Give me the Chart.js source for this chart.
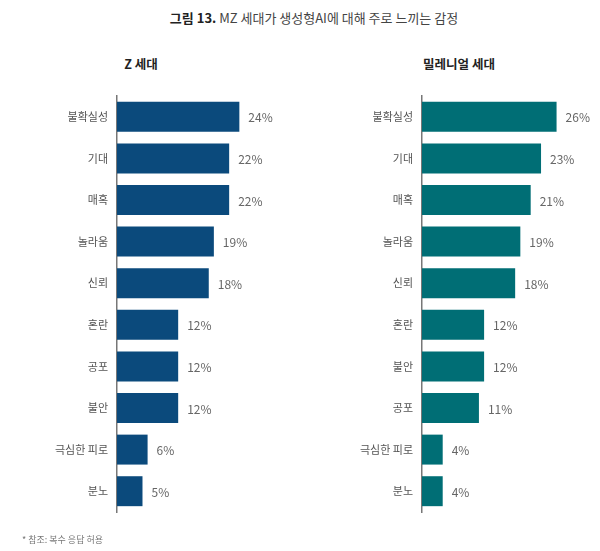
<!DOCTYPE html>
<html>
<head>
<meta charset="utf-8">
<script src="https://cdn.jsdelivr.net/npm/chart.js@4"></script>
<style>
  body { margin: 0; background: #fff; font-family: "Noto Sans CJK KR", "Noto Sans", sans-serif; }
  #wrap { position: relative; width: 600px; height: 551px; }
  .cv { position: absolute; top: 0; }
  .txt { position: absolute; white-space: nowrap; }
  #title { left: 0; width: 628px; top: 8px; text-align: center; font-size: 13px; color: #444; }
  #title b { color: #222; }
  .sub { top: 54px; font-size: 12.5px; font-weight: bold; color: #222; transform: translateX(-50%); }
  #note { left: 22px; top: 533px; font-size: 9px; color: #777; }
</style>
</head>
<body>
<div id="wrap">
  <div class="txt" id="title"><b>그림 13.</b> MZ 세대가 생성형AI에 대해 주로 느끼는 감정</div>
  <div class="txt sub" style="left:141px">Z 세대</div>
  <div class="txt sub" style="left:459px">밀레니얼 세대</div>
  <canvas id="chartZ" class="cv" width="300" height="551" style="left:0"></canvas>
  <canvas id="chartM" class="cv" width="300" height="551" style="left:300px"></canvas>
  <div class="txt" id="note">* 참조: 복수 응답 허용</div>
</div>
<script>
const zLabels = ['불확실성', '기대', '매혹', '놀라움', '신뢰', '혼란', '공포', '불안', '극심한 피로', '분노'];
const zValues = [24, 22, 22, 19, 18, 12, 12, 12, 6, 5];

const mLabels = ['불확실성', '기대', '매혹', '놀라움', '신뢰', '혼란', '불안', '공포', '극심한 피로', '분노'];
const mValues = [26, 23, 21, 19, 18, 12, 12, 11, 4, 4];

// percent labels after each bar
const valueLabels = {
  id: 'valueLabels',
  afterDatasetsDraw(chart) {
    const ctx = chart.ctx;
    const meta = chart.getDatasetMeta(0);
    ctx.save();
    ctx.font = '12px "Noto Sans CJK KR", "Noto Sans", sans-serif';
    ctx.fillStyle = '#666';
    ctx.textAlign = 'left';
    ctx.textBaseline = 'middle';
    meta.data.forEach((bar, i) => {
      ctx.fillText(chart.data.datasets[0].data[i] + '%', bar.x + 9, bar.y + 1);
    });
    ctx.restore();
  }
};

function makeChart(id, labels, values, color, axisW, padRight, max) {
  return new Chart(document.getElementById(id), {
    type: 'bar',
    data: {
      labels: labels,
      datasets: [{
        data: values,
        backgroundColor: color,
        borderWidth: 0,
        categoryPercentage: 1,
        barPercentage: 0.72
      }]
    },
    options: {
      indexAxis: 'y',
      responsive: false,
      animation: false,
      layout: { padding: { top: 96, bottom: 39, left: 0, right: padRight } },
      plugins: { legend: { display: false }, tooltip: { enabled: false } },
      scales: {
        x: { display: false, min: 0, max: max },
        y: {
          afterFit(scale) { scale.width = axisW; },
          grid: { display: false, drawTicks: false },
          border: { display: true, color: '#777', width: 1.5 },
          ticks: {
            autoSkip: false,
            padding: 9,
            color: '#555',
            font: { size: 11, family: '"Noto Sans CJK KR", "Noto Sans", sans-serif' }
          }
        }
      }
    },
    plugins: [valueLabels]
  });
}

makeChart('chartZ', zLabels, zValues, '#0b4a7c', 117, 27, 30.6);
makeChart('chartM', mLabels, mValues, '#006e75', 122, 16, 31.3);
</script>
</body>
</html>
